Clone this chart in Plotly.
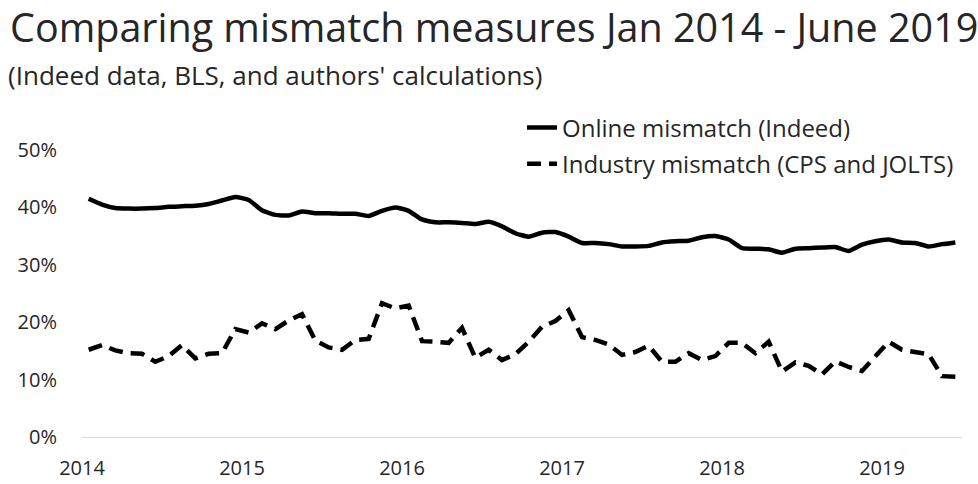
import plotly.graph_objects as go

# Monthly observations, January 2014 through June 2019 (66 months)
months = list(range(66))
year_labels = ["2014", "2015", "2016", "2017", "2018", "2019"]
year_tick_positions = [-0.5, 11.5, 23.5, 35.5, 47.5, 59.5]

# Online mismatch (Indeed), percent
online_mismatch = [
    41.5, 40.5, 39.9, 39.8, 39.8, 39.9, 40.1, 40.2, 40.3, 40.6, 41.2, 41.8,
    41.3, 39.5, 38.7, 38.6, 39.3, 39.0, 39.0, 38.9, 38.9, 38.5, 39.4, 40.0,
    39.4, 37.9, 37.4, 37.4, 37.3, 37.1, 37.5, 36.7, 35.5, 34.9, 35.6, 35.7,
    34.9, 33.8, 33.8, 33.6, 33.2, 33.2, 33.3, 33.9, 34.1, 34.2, 34.8, 35.0,
    34.4, 32.9, 32.8, 32.7, 32.1, 32.8, 32.9, 33.0, 33.1, 32.4, 33.5, 34.1,
    34.4, 33.9, 33.8, 33.2, 33.6, 33.9,
]

# Industry mismatch (CPS and JOLTS), percent
industry_mismatch = [
    15.2, 16.0, 15.1, 14.6, 14.5, 13.1, 14.1, 16.0, 13.7, 14.5, 14.6, 18.8,
    18.2, 19.8, 18.8, 20.3, 21.4, 16.8, 15.6, 15.2, 16.9, 17.1, 23.3, 22.4,
    22.9, 16.7, 16.6, 16.4, 19.0, 13.8, 15.2, 13.4, 14.4, 16.6, 19.2, 20.2,
    22.1, 17.4, 16.9, 16.1, 14.3, 14.8, 15.9, 13.1, 13.1, 14.6, 13.4, 14.1,
    16.4, 16.4, 14.6, 16.6, 11.4, 13.0, 12.4, 10.9, 13.2, 12.2, 11.5, 14.1,
    16.6, 15.2, 14.8, 14.4, 10.6, 10.5,
]

y_ticks = [0, 10, 20, 30, 40, 50]
y_tick_text = [f"{v}%" for v in y_ticks]

FONT = "Open Sans"
TEXT = "#262626"

fig = go.Figure()
fig.add_trace(go.Scatter(
    x=months, y=online_mismatch, mode="lines",
    name="Online mismatch (Indeed)",
    line=dict(color="black", width=4.5, shape="spline", smoothing=0.5),
    legendgroup="a",
))
fig.add_trace(go.Scatter(
    x=months, y=industry_mismatch, mode="lines",
    name="Industry mismatch (CPS and JOLTS)",
    line=dict(color="black", width=4.5, dash="14px,8px"),
    legendgroup="b",
))

fig.update_layout(
    width=978, height=484,
    margin=dict(l=82, r=16, t=150, b=47, autoexpand=False),
    paper_bgcolor="white", plot_bgcolor="white",
    font=dict(family=FONT, color=TEXT, size=20),
    showlegend=True,
    legend=dict(
        x=0.5, y=1.014, xanchor="left", yanchor="middle",
        font=dict(size=24, color=TEXT),
        bgcolor="rgba(0,0,0,0)", tracegroupgap=2,
        itemwidth=30,
    ),
    xaxis=dict(
        range=[-0.5, 65.5], automargin=False,
        tickmode="array", tickvals=year_tick_positions, ticktext=year_labels,
        showgrid=False, zeroline=False,
        showline=True, linecolor="#d9d9d9", linewidth=1,
        ticks="", ticklabelstandoff=13,
        tickfont=dict(size=20, color=TEXT),
    ),
    yaxis=dict(
        range=[0, 50], automargin=False,
        tickmode="array", tickvals=y_ticks, ticktext=y_tick_text,
        showgrid=False, zeroline=False, showline=False,
        ticks="", ticklabelstandoff=24,
        tickfont=dict(size=20, color=TEXT),
    ),
    annotations=[
        dict(text="Comparing mismatch measures Jan 2014 - June 2019",
             x=0, y=1, xref="paper", yref="paper", xanchor="left", yanchor="top",
             xshift=-74, yshift=152, showarrow=False,
             font=dict(size=39.5, color=TEXT, family=FONT)),
        dict(text="(Indeed data, BLS, and authors' calculations)",
             x=0, y=1, xref="paper", yref="paper", xanchor="left", yanchor="top",
             xshift=-76, yshift=95, showarrow=False,
             font=dict(size=26, color=TEXT, family=FONT)),
    ],
)

fig.write_html("out.html")
